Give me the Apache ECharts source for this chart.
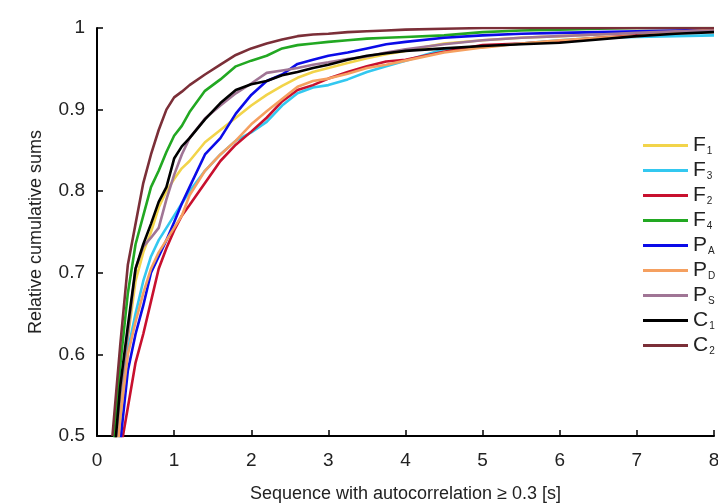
<!DOCTYPE html>
<html><head><meta charset="utf-8">
<script src="https://cdn.jsdelivr.net/npm/echarts@6/dist/echarts.min.js"></script>
<style>html,body{margin:0;padding:0;background:#fff}#c{width:718px;height:504px}</style>
</head><body><div id="c"></div>
<script>
// shared x grid (seconds)
const X = [0.2,0.3,0.4,0.5,0.6,0.7,0.8,0.9,1.0,1.1,1.2,1.4,1.6,1.8,2.0,2.2,2.4,2.6,2.8,3.0,3.25,3.5,3.75,4.0,4.5,5.0,5.5,6.0,6.5,7.0,7.5,8.0];
const F1 = [0.44,0.54,0.62,0.69,0.725,0.75,0.78,0.80,0.815,0.828,0.837,0.86,0.875,0.89,0.905,0.918,0.929,0.939,0.946,0.951,0.957,0.963,0.968,0.972,0.981,0.985,0.988,0.99,0.992,0.994,0.996,0.998];
const F3 = [0.40,0.51,0.605,0.65,0.69,0.72,0.74,0.755,0.77,0.785,0.80,0.825,0.845,0.862,0.872,0.885,0.905,0.92,0.927,0.93,0.937,0.946,0.953,0.96,0.974,0.977,0.981,0.985,0.988,0.989,0.99,0.991];
const F2 = [0.36,0.48,0.535,0.59,0.625,0.665,0.705,0.73,0.752,0.77,0.783,0.81,0.837,0.857,0.873,0.89,0.91,0.924,0.93,0.938,0.946,0.953,0.959,0.961,0.971,0.979,0.981,0.984,0.988,0.991,0.994,0.996];
const F4 = [0.47,0.585,0.675,0.735,0.77,0.805,0.825,0.848,0.868,0.88,0.897,0.923,0.937,0.953,0.96,0.966,0.975,0.979,0.981,0.983,0.985,0.987,0.988,0.989,0.991,0.995,0.997,0.998,0.999,1.0,1.0,1.0];
const PA = [0.40,0.49,0.58,0.625,0.66,0.70,0.72,0.74,0.762,0.785,0.805,0.845,0.865,0.895,0.918,0.935,0.943,0.956,0.961,0.966,0.97,0.975,0.98,0.983,0.988,0.991,0.993,0.994,0.995,0.996,0.997,0.998];
const PD = [0.41,0.52,0.60,0.64,0.675,0.705,0.725,0.74,0.755,0.77,0.795,0.825,0.845,0.862,0.882,0.898,0.913,0.928,0.935,0.938,0.944,0.951,0.955,0.96,0.97,0.976,0.981,0.985,0.988,0.99,0.995,0.998];
const PS = [0.45,0.55,0.625,0.705,0.732,0.743,0.755,0.79,0.82,0.845,0.865,0.889,0.905,0.92,0.932,0.945,0.948,0.951,0.955,0.958,0.962,0.965,0.97,0.974,0.98,0.985,0.988,0.99,0.992,0.994,0.996,0.997];
const C1 = [0.45,0.56,0.635,0.705,0.735,0.76,0.787,0.805,0.84,0.855,0.865,0.888,0.908,0.924,0.931,0.935,0.942,0.946,0.951,0.955,0.961,0.966,0.969,0.972,0.975,0.978,0.98,0.982,0.986,0.99,0.993,0.995];
const C2 = [0.50,0.61,0.71,0.76,0.81,0.845,0.875,0.90,0.915,0.922,0.93,0.943,0.955,0.967,0.975,0.981,0.986,0.99,0.992,0.993,0.995,0.996,0.997,0.998,0.999,1.0,1.0,1.0,1.0,1.0,1.0,1.0];

const names = ['F1','F3','F2','F4','PA','PD','PS','C1','C2'];
const values = [F1,F3,F2,F4,PA,PD,PS,C1,C2];
const colors = ['#f2d44a','#33c8f0','#c8102e','#22a822','#0b0be8','#f5a060','#a07595','#000000','#7b2f38'];
const xTicks = [0,1,2,3,4,5,6,7,8];
const yTicks = [0.5,0.6,0.7,0.8,0.9,1];

const FONT = '"Liberation Sans", Arial, sans-serif';
const chart = echarts.init(document.getElementById('c'), null, {renderer:'canvas'});
chart.setOption({
  animation:false,
  backgroundColor:'#fff',
  grid:{left:97, right:4, top:28, bottom:68, containLabel:false, outerBoundsMode:'none'},
  xAxis:{type:'value', min:0, max:8, interval:1,
    name:'Sequence with autocorrelation \u2265 0.3 [s]', nameLocation:'middle', nameGap:49,
    nameTextStyle:{fontFamily:FONT, fontSize:18, color:'#222'},
    axisLine:{lineStyle:{color:'#000', width:2}},
    axisTick:{inside:true, length:6, lineStyle:{color:'#000', width:1.5}},
    axisLabel:{fontFamily:FONT, fontSize:19, color:'#222', margin:15, showMaxLabel:true},
    splitLine:{show:false}},
  yAxis:{type:'value', min:0.5, max:1, interval:0.1,
    name:'Relative cumulative sums', nameLocation:'middle', nameGap:52,
    nameTextStyle:{fontFamily:FONT, fontSize:18, color:'#222'},
    axisLine:{show:true, lineStyle:{color:'#000', width:2}},
    axisTick:{show:true, inside:true, length:6, lineStyle:{color:'#000', width:1.5}},
    axisLabel:{fontFamily:FONT, fontSize:19, color:'#222', margin:12,
      formatter:v=>String(Math.round(v*10)/10)},
    splitLine:{show:false}},
  legend:{orient:'vertical', left:643, top:135, padding:0, itemWidth:45, itemHeight:3, itemGap:3.5,
    icon:'rect',
    data:names,
    formatter:n=>'{m|'+n[0]+'}{s|'+n.slice(1)+'}',
    textStyle:{fontFamily:FONT, color:'#222', rich:{
      m:{fontFamily:FONT, fontSize:21, color:'#222', lineHeight:21},
      s:{fontFamily:FONT, fontSize:10, color:'#222', padding:[12,0,0,1]}}}},
  series: names.map((n,i)=>({name:n, type:'line', symbol:'none', clip:true,
    data:X.map((x,j)=>[x, values[i][j]]),
    lineStyle:{color:colors[i], width:2.6}, itemStyle:{color:colors[i]}}))
});
</script></body></html>
